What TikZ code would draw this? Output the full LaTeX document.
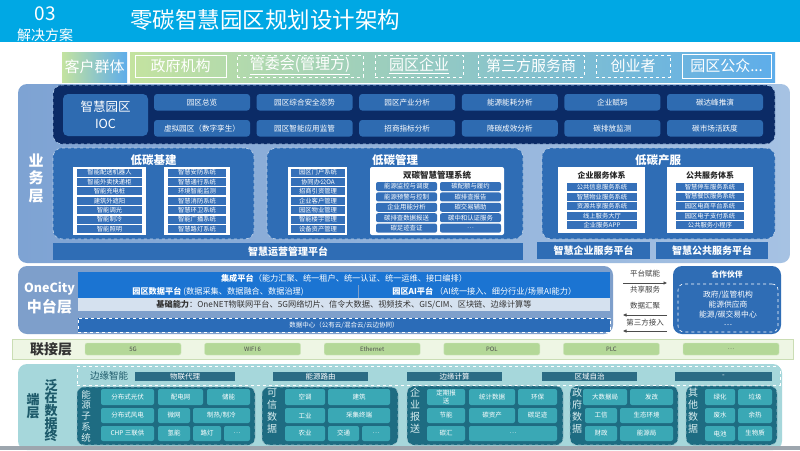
\documentclass[tikz,border=0pt]{standalone}
\usepackage{fontspec}
\setmainfont{Noto Sans CJK SC}
\usetikzlibrary{positioning,arrows.meta}

\definecolor{headcyan}{HTML}{00A8E4}
\definecolor{custgreen}{HTML}{C4E3A0}
\definecolor{custblue}{HTML}{5EADEA}
\definecolor{bizdark}{HTML}{7EA3D3}
\definecolor{bizlight}{HTML}{A6C2E3}
\definecolor{iocnavy}{HTML}{0B2B66}
\definecolor{cellblue}{HTML}{2E6BB1}
\definecolor{panelblue}{HTML}{2F6DB5}
\definecolor{stripblue}{HTML}{3570B9}
\definecolor{cityframe}{HTML}{7E9FCB}
\definecolor{barblue}{HTML}{1B74D2}
\definecolor{barpale}{HTML}{D5E1EF}
\definecolor{cloudblue}{HTML}{2B6CB8}
\definecolor{linkbg}{HTML}{EEF6E4}
\definecolor{linkline}{HTML}{CADDB4}
\definecolor{linkgreen}{HTML}{B4D898}
\definecolor{termbg}{HTML}{A6D7DB}
\definecolor{termdark}{HTML}{1E6C82}
\definecolor{termcell}{HTML}{3AA8B5}
\definecolor{termtext}{HTML}{1D5A6A}
\definecolor{termpale}{HTML}{D9EFF1}
\definecolor{edgebar}{HTML}{2B6C85}
\definecolor{footgray}{HTML}{9DA6AE}

\newcommand\fsz[1]{\fontsize{#1}{#1}\selectfont}

\begin{document}
\begin{tikzpicture}[x=1pt,y=-1pt,
  blk/.style={inner sep=0pt,outer sep=0pt,anchor=north west,align=center},
  txt/.style={inner sep=0pt,outer sep=0pt,align=center},
  custbox/.style={blk,draw=white,line width=0.9pt,minimum height=22,text=white,font=\fsz{15}},
  ioccell/.style={blk,fill=cellblue,rounded corners=3,minimum width=96,minimum height=16.5,text=white,font=\fsz{7.6}},
  lpanel/.style={blk,fill=panelblue,rounded corners=9,draw=white!65!panelblue,dashed,line width=0.7pt,minimum height=91},
  ptitle/.style={txt,text=white,font=\fsz{11.5}\bfseries},
  wbox/.style={blk,fill=white},
  strip/.style={blk,fill=stripblue,text=white,font=\fsz{6.3},minimum height=8},
  sysitem/.style={blk,fill=stripblue,rounded corners=2,text=white,font=\fsz{6.4},minimum width=61,minimum height=9},
  wtitle/.style={txt,text=black!85,font=\fsz{8}\bfseries},
  platbar/.style={blk,fill=panelblue,text=white,font=\fsz{10}\bfseries,minimum height=17},
  midbar/.style={blk,fill=barblue,text=white,font=\fsz{8.2},minimum height=12.5},
  flowtxt/.style={txt,text=black!75,font=\fsz{7.5}},
  flow/.style={draw=black!70,line width=0.8pt,-{Triangle[length=3.5pt,width=3pt]}},
  linkcell/.style={blk,fill=linkgreen,rounded corners=2,draw=linkgreen!60!white,minimum width=96,minimum height=12,text=black!70,font=\fsz{6}},
  ebar/.style={blk,fill=edgebar,text=white,font=\fsz{7.5},minimum height=9},
  tpanel/.style={blk,fill=termdark,rounded corners=7,draw=white!55!termdark,dashed,line width=0.6pt},
  tlabel/.style={txt,text=termpale,font=\fontsize{10}{12}\selectfont},
  tcell/.style={blk,fill=termcell,rounded corners=2,text=white,font=\fontsize{6.5}{7.5}\selectfont}
]
\useasboundingbox (0,0) rectangle (800,450);
\fill[white] (0,0) rectangle (800,450);

% header
\fill[headcyan] (0,0) rectangle (800,42);
\node[txt,text=white,font=\fsz{19}] (secno) at (45,14) {03};
\node[txt,text=white,font=\fsz{14}] (secname) at (45,35) {解决方案};
\node[txt,text=white,font=\fsz{22.5},anchor=west] (title) at (130,20) {零碳智慧园区规划设计架构};

% customers
\node[blk,minimum width=65,minimum height=30,left color=custgreen,right color=custblue,text=white,font=\fsz{15}] (custlabel) at (62,52) {客户群体};
\node[blk,minimum width=645,minimum height=30,left color=custgreen,right color=custblue] (custrow) at (130,52) {};
\node[custbox,minimum width=91] (gov) at (135,55) {政府机构};
\node[custbox,dashed,minimum width=126] (admin) at (237,55) {\underline{管委会(管理方)}};
\node[custbox,dashed,minimum width=88] (firm) at (375,55) {\underline{园区企业}};
\node[custbox,dashed,minimum width=106] (third) at (478,55) {第三方服务商};
\node[custbox,dashed,minimum width=74] (starter) at (596,55) {创业者};
\node[custbox,minimum width=89,minimum height=24] (public) at (682,54) {园区公众...};

% business layer
\node[blk,rounded corners=9,minimum width=772,minimum height=179,left color=bizdark,right color=bizlight] (bizframe) at (18,84) {};
\node[txt,text=white,font=\fontsize{15}{17.5}\selectfont\bfseries] (bizlabel) at (36,178) {业\\务\\层};

\node[blk,rounded corners=9,fill=iocnavy,draw=bizlight,dashed,line width=0.7pt,minimum width=722,minimum height=59] (iocpanel) at (53,85) {};
\node[blk,rounded corners=5,fill=cellblue,minimum width=85,minimum height=42,text=white,font=\fontsize{12.5}{17}\selectfont] (ioc) at (63,94) {智慧园区\\IOC};
\foreach \t [count=\i] in {园区总览,园区综合安全态势,园区产业分析,能源能耗分析,企业赋码,碳达峰推演}
  \node[ioccell] (iocA-\i) at ({154+102.6*(\i-1)},94) {\t};
\foreach \t [count=\i] in {虚拟园区（数字孪生）,园区智能应用监管,招商指标分析,降碳成效分析,碳排放监测,碳市场活跃度}
  \node[ioccell] (iocB-\i) at ({154+102.6*(\i-1)},120) {\t};

% low carbon infrastructure
\node[lpanel,minimum width=201] (infra) at (53,148) {};
\node[ptitle] (infra-t) at (153.5,160) {低碳基建};
\node[wbox,minimum width=73,minimum height=68] (infra-l) at (73,167) {};
\foreach \t [count=\i] in {智能配送机器人,智能外卖快递柜,智能充电桩,建筑外遮阳,智能调光,智能制冷,智能照明}
  \node[strip,minimum width=65] (infraL-\i) at (77,{168.5+9.4*(\i-1)}) {\t};
\node[wbox,minimum width=66,minimum height=68] (infra-r) at (164,167) {};
\foreach \t [count=\i] in {智慧安防系统,智慧通行系统,环境智能监测,智慧消防系统,智慧环卫系统,智能广播系统,智慧路灯系统}
  \node[strip,minimum width=58] (infraR-\i) at (168,{168.5+9.4*(\i-1)}) {\t};

% low carbon management
\node[lpanel,minimum width=256] (mgmt) at (267,148) {};
\node[ptitle] (mgmt-t) at (395,160) {低碳管理};
\node[wbox,minimum width=59,minimum height=68] (mgmt-l) at (288,167) {};
\foreach \t [count=\i] in {园区门户系统,协同办公OA,招商引资管理,企业客户管理,园区物业管理,智能楼宇管理,设备资产管理}
  \node[strip,minimum width=54] (mgmtL-\i) at (291,{168.5+9.4*(\i-1)}) {\t};
\node[wbox,rounded corners=2,minimum width=134,minimum height=68] (dual) at (370,167) {};
\node[wtitle,font=\fsz{8.5}\bfseries] (dual-t) at (437,175) {双碳智慧管理系统};
\foreach \a/\b [count=\i] in {能源监控与调度/碳配额与履约,能源预警与控制/碳排查报告,企业用能分析/碳交易辅助,碳排查数据报送/碳中和认证服务,碳足迹查证/{\ldots}}
{
  \node[sysitem] (dualA-\i) at (376,{182+10.4*(\i-1)}) {\a};
  \node[sysitem] (dualB-\i) at (440,{182+10.4*(\i-1)}) {\b};
}

% low carbon services
\node[lpanel,minimum width=233] (serv) at (542,148) {};
\node[ptitle] (serv-t) at (658,160) {低碳产服};
\node[wbox,minimum width=87,minimum height=66] (firmsys) at (558,167) {};
\node[wtitle] (firmsys-t) at (601.5,175) {企业服务体系};
\foreach \t [count=\i] in {公共信息服务系统,智慧物业服务系统,资源共享服务系统,线上服务大厅,企业服务APP}
  \node[strip,minimum width=70] (firmsys-\i) at (567,{183+9.6*(\i-1)}) {\t};
\node[wbox,minimum width=86,minimum height=66] (pubsys) at (667,167) {};
\node[wtitle] (pubsys-t) at (710,175) {公共服务体系};
\foreach \t [count=\i] in {智慧停车服务系统,智慧餐饮服务系统,园区电商平台系统,园区电子支付系统,公共服务小程序}
  \node[strip,minimum width=68] (pubsys-\i) at (676,{183+9.6*(\i-1)}) {\t};

\node[platbar,minimum width=470] (opsplat) at (53,243) {智慧运营管理平台};
\node[platbar,minimum width=113] (firmplat) at (537,242) {智慧企业服务平台};
\node[platbar,minimum width=112] (pubplat) at (656,242) {智慧公共服务平台};

% OneCity middle layer
\node[blk,rounded corners=9,fill=cityframe,minimum width=595,minimum height=68] (cityframe) at (18,266) {};
\node[txt,text=white,font=\fsz{12.5}\bfseries] (cityname) at (49.5,289) {OneCity};
\node[txt,text=white,font=\fsz{15}\bfseries] (citylabel) at (49.5,307) {中台层};
\node[midbar,minimum width=532] (integ) at (78,272) {\textbf{集成平台}（能力汇聚、统一租户、统一认证、统一运维、接口编排）};
\node[midbar,minimum width=280] (dataplat) at (78,285) {\textbf{园区数据平台} (数据采集、数据融合、数据治理)};
\node[midbar,minimum width=251.5] (aiplat) at (358.5,285) {\textbf{园区AI平台} （AI统一接入、细分行业/场景AI能力）};
\node[midbar,fill=barpale,text=black!80,minimum width=532] (basecap) at (78,298) {\textbf{基础能力}：OneNET物联网平台、5G网络切片、信令大数据、视频技术、GIS/CIM、区块链、边缘计算等};
\node[midbar,fill=cloudblue,draw=white,dashed,font=\fsz{6.5},minimum width=532,minimum height=14] (cloud) at (78,318) {数据中心（公有云/混合云/云边协同）};

\node[flowtxt] (enable) at (645,274) {平台赋能};
\node[flowtxt] (share) at (645,290) {共享服务};
\node[flowtxt] (gather) at (645,306) {数据汇聚};
\node[flowtxt] (access) at (645,323) {第三方接入};
\coordinate (shareL) at (623,283);
\coordinate (shareR) at (667,283);
\coordinate (gatherR) at (667,315);
\coordinate (gatherL) at (623,315);
\coordinate (accessR) at (667,331);
\coordinate (accessL) at (623,331);
\draw[flow] (shareL) -- (shareR);
\draw[flow] (gatherR) -- (gatherL);
\draw[flow] (accessR) -- (accessL);

\node[blk,rounded corners=9,fill=panelblue,minimum width=108,minimum height=68] (partner) at (673,266) {};
\node[txt,text=white,font=\fsz{7.8}\bfseries] (partner-t) at (727,275) {合作伙伴};
\node[blk,rounded corners=6,draw=white,dashed,line width=0.6pt,minimum width=100,minimum height=48] (partner-in) at (678,284) {};
\foreach \t [count=\i] in {政府/监管机构,能源供应商,能源/碳交易中心,{\ldots}}
  \node[txt,text=white,font=\fsz{7.8}] (partner-\i) at (728,{295+10*(\i-1)}) {\t};

% link layer
\node[blk,fill=linkbg,draw=linkline,line width=0.8pt,minimum width=781,minimum height=20] (linkframe) at (12,339) {};
\node[txt,text=black!80,font=\fsz{14}\bfseries] (linklabel) at (51,349) {联接层};
\foreach \t [count=\i] in {5G,WIFI 6,Ethernet,POL,PLC,{\ldots}}
  \node[linkcell] (link-\i) at ({85+119.6*(\i-1)},343) {\t};

% terminal layer
\node[blk,rounded corners=9,fill=termbg,minimum width=764,minimum height=86] (termframe) at (18,364) {};
\fill[footgray] (0,446) rectangle (800,450);
\node[txt,text=termtext,font=\fontsize{13}{12.6}\selectfont\bfseries] (termlabelA) at (51,410.5) {泛\\在\\数\\据\\终};
\node[txt,text=termtext,font=\fontsize{13}{13.5}\selectfont\bfseries] (termlabelB) at (33,406) {端\\层};

\node[blk,draw=white,dashed,line width=0.6pt,minimum width=703,minimum height=19] (edgerow) at (77,366) {};
\node[txt,text=termtext,font=\fsz{9.5}] (edgelabel) at (109,375.5) {边缘智能};
\foreach \x/\w/\t [count=\i] in {135/100/物联代理,273/95/能源路由,407/95/边缘计算,542/95/区域自治,675/97/-}
  \node[ebar,minimum width=\w] (edge-\i) at (\x,372) {\t};

\node[tpanel,minimum width=178,minimum height=58] (energy) at (77,387) {};
\node[tpanel,minimum width=136,minimum height=58] (trust) at (262,387) {};
\node[tpanel,minimum width=156,minimum height=59] (report) at (407,386) {};
\node[tpanel,minimum width=108,minimum height=59] (govdata) at (570,386) {};
\node[tpanel,minimum width=91,minimum height=59] (otherdata) at (686,386) {};

\node[tlabel,font=\fontsize{9.5}{10.8}\selectfont] (energy-t) at (86,416) {能\\源\\子\\系\\统};
\node[tlabel] (trust-t) at (272,411.5) {可\\信\\数\\据};
\node[tlabel] (report-t) at (415,411) {企\\业\\报\\送};
\node[tlabel] (govdata-t) at (577,411) {政\\府\\数\\据};
\node[tlabel] (otherdata-t) at (693,411) {其\\他\\数\\据};

\foreach \x/\y/\w/\h/\t [count=\i] in {
  101/389/53/16/分布式光伏, 158/389/45/16/配电网, 207/389/43/16/储能,
  101/408/53/15/分布式风电, 158/408/32/15/微网, 193/408/57/15/{制热/制冷},
  101/426/53/15/CHP 三联供, 158/426/32/15/氢能, 193/426/28/15/路灯, 224/426/26/15/{\ldots},
  285/389/40/16/空调, 328/389/62/16/建筑,
  285/408/40/15/工业, 328/408/62/15/采集终端,
  285/426/40/15/农业, 328/426/31/15/交通, 362/426/28/15/{\ldots},
  427/389/38/16/{定期报\\送}, 469/389/46/16/统计数据, 518/389/39/16/环保,
  427/408/38/15/节能, 469/408/46/15/碳资产, 518/408/39/15/碳足迹,
  427/426/38/15/碳汇, 469/426/88/15/{\ldots},
  583/389/44/16/大数据局, 630/389/43/16/发改,
  585/408/32/15/工信, 620/408/53/15/生态环境,
  585/426/32/15/财政, 620/426/53/15/能源局,
  705/389/30/16/绿化, 738/389/34/16/垃圾,
  705/408/30/15/废水, 738/408/34/15/余热,
  705/426/30/15/电池, 738/426/34/15/生物质}
  \node[tcell,minimum width=\w,minimum height=\h] (tc-\i) at (\x,\y) {\t};
\end{tikzpicture}
\end{document}
